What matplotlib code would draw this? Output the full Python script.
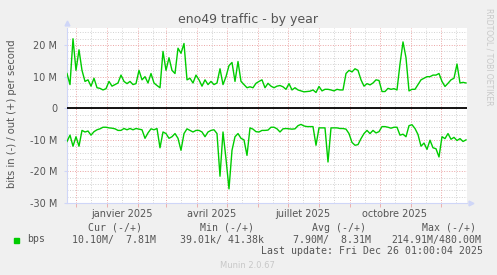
import matplotlib
matplotlib.use("Agg")
import matplotlib.pyplot as plt
import numpy as np
import pandas as pd

W, H = 497, 275

# traffic in Mbit/s, one reading every 3 days starting 2024-11-22
start_date = "2024-11-22"
out_mbps = [
    11, 7.5, 22, 12, 18.5, 12, 8.5, 9, 7, 9.5, 6.5, 6.3, 5.8, 6.2, 8.5, 7, 7.5, 8,
    10.5, 8.5, 7.8, 8.5, 7.5, 7.8, 12, 9, 10, 8, 11, 8, 7.2, 6.5, 18, 12, 16, 12,
    11, 19, 17.4, 20.5, 9, 9.5, 8, 10.5, 9, 7, 9, 7.5, 8.5, 7.5, 8, 12.5, 7.5, 10,
    13.5, 14.5, 8.5, 14.8, 8.5, 7.5, 6.5, 6.8, 6.5, 7.9, 8.5, 9, 6.5, 7.9, 7, 6.5,
    7, 7.2, 6.8, 6, 7.8, 5.8, 6.5, 5.8, 5.5, 5.2, 5.3, 5.4, 5.8, 5.0, 6.9, 5.5, 6,
    6, 5.8, 5.5, 6, 5.8, 5.8, 11, 12, 11.5, 12.5, 12, 9, 7, 7.8, 7.4, 8, 9, 8.8,
    5.3, 5.3, 6.3, 6, 6.2, 5.8, 14, 21, 16, 5.5, 6, 6, 7.5, 9, 9.5, 10, 10, 10.5,
    10.5, 11, 8.5, 6.9, 7.9, 9, 9.5, 14, 8, 8.2, 8,
]
in_mbps = [
    10.5, 8.5, 12, 9, 12, 7, 7.5, 7.2, 8.5, 7.4, 6.8, 6.5, 6, 6, 6.2, 6.3, 6.5, 7,
    7, 6.4, 6.8, 6.4, 6.8, 6.4, 6.6, 6.8, 9.5, 7.8, 6.5, 6.8, 6.4, 12.5, 7.5, 8,
    9.5, 9, 8, 9.5, 13.3, 8, 6.5, 7, 7.5, 7, 7, 7.5, 9, 7.5, 7, 6.8, 8, 21.5, 7.5,
    16, 25.5, 13.3, 9, 8, 9.5, 10, 14.9, 6.2, 6.6, 7.4, 7.5, 7, 7, 6.9, 6, 6, 6.5,
    7.5, 6.5, 6.4, 6.5, 6.6, 6.5, 5.5, 5.1, 5.6, 5.8, 5.8, 5.8, 11.7, 6.2, 6.2,
    6.2, 17, 6.2, 6.2, 6.2, 6.4, 6.4, 6.6, 8, 10.8, 11.7, 11.5, 9.6, 8, 7, 8, 7,
    7.8, 7.4, 5.8, 5.8, 6, 6.3, 6, 6, 8.5, 8.2, 9, 5.5, 5.2, 6.4, 8.3, 12, 11, 13,
    10.1, 12.5, 12.8, 15.4, 9, 9.6, 8, 9.8, 9.2, 10.2, 9.6, 10.5, 10,
]

y_ticks = [20, 10, 0, -10, -20, -30]
y_labels = ["20 M", "10 M", "0", "-10 M", "-20 M", "-30 M"]
month_labels = ["janvier 2025", "avril 2025", "juillet 2025", "octobre 2025"]
label_dates = ["2025-01-16", "2025-04-16", "2025-07-16", "2025-10-16"]

col_heads = ["Cur (-/+)", "Min (-/+)", "Avg (-/+)", "Max (-/+)"]
col_values = ["10.10M/  7.81M", "39.01k/ 41.38k", "7.90M/  8.31M", "214.91M/480.00M"]

GREEN = "#00CC00"
FONT = "#555555"
AXIS = "#CFD6F8"
MGRID = "#EBA5A5"
GRID = "#D2D2D2"


def fx(x):
    return x / W


def fy(y):
    return 1 - y / H


dates = pd.date_range(start_date, periods=len(out_mbps), freq="3D")

fig = plt.figure(figsize=(W / 100, H / 100), dpi=100, facecolor="#F0F0F0")
top, bottom, left, right = 28, 203.1, 67, 467
ax = fig.add_axes([fx(left), fy(bottom), fx(right - left), (bottom - top) / H])
ax.set_facecolor("white")

x0 = pd.Timestamp("2024-11-22")
x1 = pd.Timestamp("2025-12-27")
ax.set_xlim(x0, x1)
ax.set_ylim(-30, 25.4)

# grid, drawn by hand to get the rrdtool look
dots = (0, (1, 1.6))
for v in np.arange(-30, 26, 2):
    if v % 10:
        ax.axhline(v, color=GRID, lw=0.7, ls=dots, zorder=1)
for v in y_ticks:
    ax.axhline(v, color=MGRID, lw=0.7, ls=dots, zorder=1)
months = pd.date_range("2024-12-01", "2025-12-01", freq="MS")
for m in months:
    ax.axvline(m, color=MGRID, lw=0.7, ls=dots, zorder=1)
    mid = m + pd.Timedelta(days=15)
    if mid < x1:
        ax.axvline(mid, color=GRID, lw=0.7, ls=dots, zorder=1)

ax.plot(dates, out_mbps, color=GREEN, lw=1.0, zorder=3)
ax.plot(dates, -np.array(in_mbps), color=GREEN, lw=1.0, zorder=3)
ax.axhline(0, color="black", lw=1.3, zorder=4)

for s in ["top", "right"]:
    ax.spines[s].set_visible(False)
for s in ["left", "bottom"]:
    ax.spines[s].set_color(AXIS)
    ax.spines[s].set_linewidth(0.8)
ax.plot([0], [1.03], marker="^", ms=3.5, color=AXIS, transform=ax.transAxes, clip_on=False)
ax.plot([1.01], [0], marker=">", ms=3.5, color=AXIS, transform=ax.transAxes, clip_on=False)

ax.set_yticks(y_ticks, y_labels)
ax.tick_params(axis="y", length=2, color=AXIS, labelsize=7, labelcolor=FONT, pad=5)
ax.set_xticks(pd.to_datetime(label_dates), month_labels)
ax.tick_params(axis="x", length=0, labelsize=7, labelcolor=FONT, pad=4)
ax.set_xticks(months, minor=True)
ax.tick_params(axis="x", which="minor", length=3, color=MGRID)

fig.text(fx(248.5), fy(19.5), "eno49 traffic - by year", ha="center", va="center",
         fontsize=9, color=FONT)
fig.text(fx(12), fy(114), "bits in (-) / out (+) per second", rotation=90,
         ha="center", va="center", fontsize=7.2, color=FONT)
fig.text(fx(489), fy(8), "RRDTOOL / TOBI OETIKER", rotation=270, ha="center", va="top",
         fontsize=5.5, color="#C8C8C8")

# legend block, rrdtool style monospace columns
mono = "DejaVu Sans Mono"
head_left = [88.5, 200.5, 312.5, 422.5]
value_left = [72, 180, 293, 391]
for txt, xl in zip(col_heads, head_left):
    fig.text(fx(xl), fy(228), txt, ha="left", va="center", family=mono, fontsize=7.1, color=FONT)
for txt, xl in zip(col_values, value_left):
    fig.text(fx(xl), fy(239.5), txt, ha="left", va="center", family=mono, fontsize=7.1, color=FONT)
fig.patches.append(plt.Rectangle((fx(14), fy(242.5)), 5 / W, 5 / H, color=GREEN,
                                 transform=fig.transFigure))
fig.text(fx(27), fy(239.5), "bps", ha="left", va="center", family=mono, fontsize=7.1, color=FONT)
fig.text(fx(483), fy(251.5), "Last update: Fri Dec 26 01:00:04 2025", ha="right", va="center",
         family=mono, fontsize=7.1, color=FONT)
fig.text(fx(247), fy(265), "Munin 2.0.67", ha="center", va="center", fontsize=6, color="#C8C8C8")

fig.savefig("out.png", dpi=100, facecolor=fig.get_facecolor())
